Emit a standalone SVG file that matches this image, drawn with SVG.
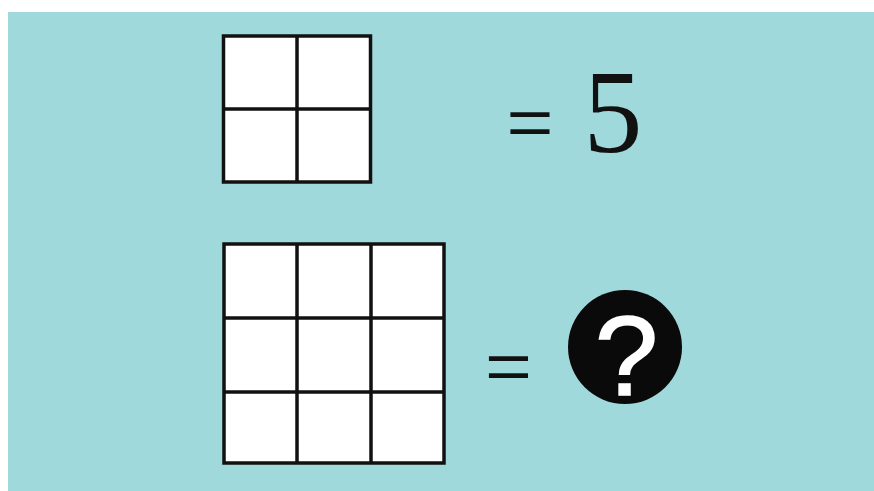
<svg xmlns="http://www.w3.org/2000/svg" width="874" height="491" viewBox="0 0 874 491">
<style>
.cell{fill:#ffffff;stroke:#111111;stroke-width:3.5}
.grid{stroke:#111111;stroke-width:3.5;fill:none}
.eq{font-family:"Liberation Sans",Arial,sans-serif;font-size:67px;fill:#111111}
</style>
<rect x="0" y="0" width="874" height="491" fill="#ffffff"/>
<rect x="8" y="12" width="866" height="479" fill="#a0d9db"/>
<g id="small-grid">
<rect class="cell" x="223.5" y="36" width="147" height="146"/>
<line class="grid" x1="297" y1="36" x2="297" y2="182"/>
<line class="grid" x1="223.5" y1="109" x2="370.5" y2="109"/>
</g>
<g id="eq-top">
<text class="eq" transform="translate(530,145) scale(1.2,1)" x="0" y="0" text-anchor="middle">=</text>
<text x="613" y="152" text-anchor="middle" font-family="Liberation Serif,'DejaVu Serif',serif" font-size="118" fill="#111111">5</text>
</g>
<g id="big-grid">
<rect class="cell" x="224" y="244" width="220" height="219"/>
<line class="grid" x1="297" y1="244" x2="297" y2="463"/>
<line class="grid" x1="371" y1="244" x2="371" y2="463"/>
<line class="grid" x1="224" y1="318" x2="444" y2="318"/>
<line class="grid" x1="224" y1="392" x2="444" y2="392"/>
</g>
<g id="eq-bottom">
<text class="eq" transform="translate(508.5,389) scale(1.2,1)" x="0" y="0" text-anchor="middle">=</text>
<circle cx="625" cy="347" r="57" fill="#0a0a0a"/>
<text x="626.5" y="395" text-anchor="middle" font-family="Liberation Sans,Arial,sans-serif" font-size="114" fill="#ffffff" stroke="#ffffff" stroke-width="1.5">?</text>
</g>
</svg>
